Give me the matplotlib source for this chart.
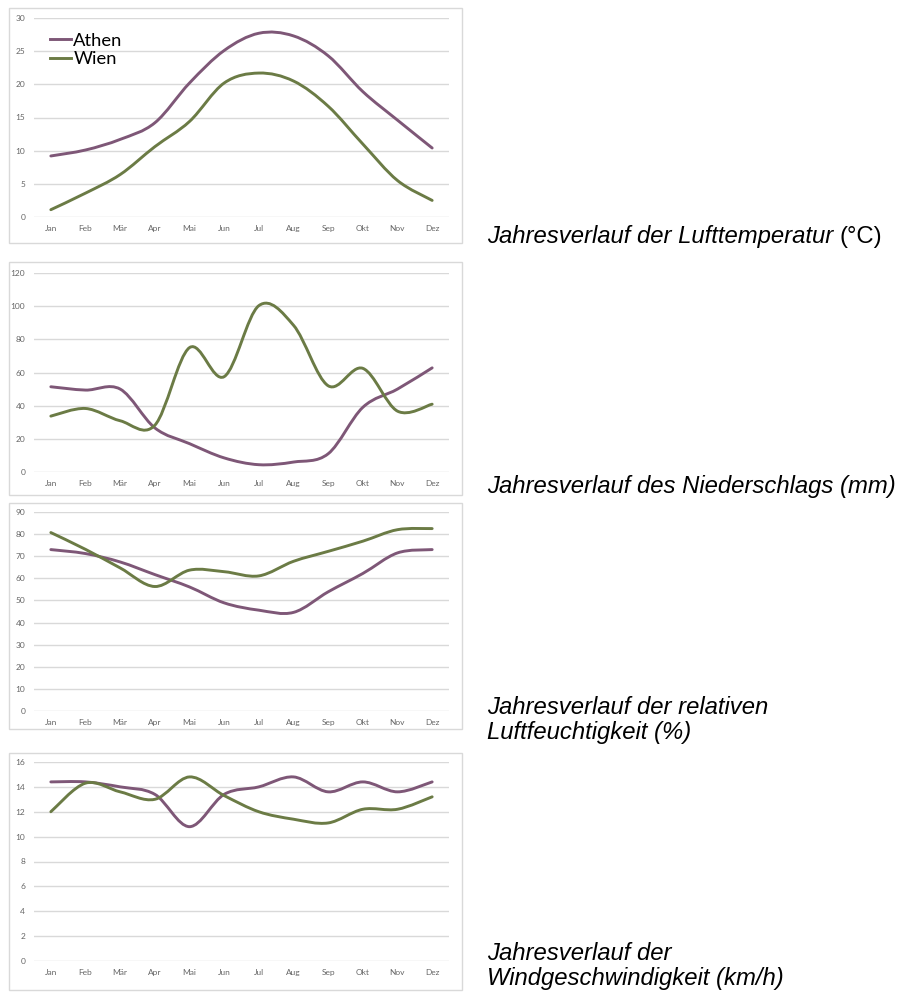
import numpy as np
import matplotlib
matplotlib.use('Agg')
import matplotlib.pyplot as plt
from matplotlib.path import Path
from matplotlib.patches import PathPatch, Rectangle
from matplotlib.lines import Line2D

months = ['Jan', 'Feb', 'Mär', 'Apr', 'Mai', 'Jun', 'Jul', 'Aug', 'Sep', 'Okt', 'Nov', 'Dez']

temp_athen = [9.2, 10.1, 11.7, 14.2, 20.2, 25.1, 27.7, 27.3, 24.3, 18.9, 14.6, 10.4]
temp_wien = [1.1, 3.6, 6.4, 10.6, 14.4, 20.2, 21.7, 20.5, 16.7, 11.0, 5.5, 2.5]

rain_athen = [51.4, 49.4, 50.0, 26.6, 17.1, 8.5, 4.4, 6.0, 11.0, 39.0, 50.0, 62.8]
rain_wien = [33.7, 38.3, 30.9, 28.2, 75.0, 57.5, 100.3, 88.5, 52.0, 62.5, 36.7, 40.9]

hum_athen = [73.0, 71.2, 67.4, 61.7, 56.1, 48.9, 45.6, 44.6, 53.9, 62.2, 71.5, 73.0]
hum_wien = [80.7, 73.1, 64.7, 56.3, 63.7, 63.0, 61.1, 67.7, 72.2, 76.8, 82.0, 82.5]

wind_athen = [14.4, 14.4, 14.0, 13.4, 10.8, 13.4, 14.0, 14.8, 13.6, 14.4, 13.6, 14.4]
wind_wien = [12.0, 14.3, 13.6, 13.0, 14.8, 13.3, 12.0, 11.4, 11.1, 12.2, 12.2, 13.2]

col_athen = '#7e5777'
col_wien = '#6b7b45'
grid_col = '#d9d9d9'
tick_col = '#666666'

W, H = 902, 992
fig = plt.figure(figsize=(W / 100, H / 100), dpi=100)


def smooth(ax, y, color):
    # Excel-like smoothed line: cubic Bezier segments through the data points
    pts = np.column_stack([np.arange(len(y)), y]).astype(float)
    n = len(pts)
    verts = [pts[0]]
    codes = [Path.MOVETO]
    for i in range(n - 1):
        p0 = pts[max(i - 1, 0)]
        p1 = pts[i]
        p2 = pts[i + 1]
        p3 = pts[min(i + 2, n - 1)]
        verts += [p1 + (p2 - p0) / 6, p2 - (p3 - p1) / 6, p2]
        codes += [Path.CURVE4] * 3
    ax.add_patch(PathPatch(Path(verts, codes), fill=False, edgecolor=color,
                           lw=2.1, capstyle='round', joinstyle='round', zorder=3))


panels = [
    # (data_a, data_w, ymax, step, axes top px, axes bottom px, box top, box bottom)
    (temp_athen, temp_wien, 30, 5, 18, 217, 8, 243),
    (rain_athen, rain_wien, 120, 20, 273, 472, 262, 495),
    (hum_athen, hum_wien, 90, 10, 512, 711, 503, 729),
    (wind_athen, wind_wien, 16, 2, 762, 961, 753, 990),
]

axes = []
for a, w, ymax, step, top, bot, btop, bbot in panels:
    fig.add_artist(Rectangle((9 / W, 1 - bbot / H), (462 - 9) / W, (bbot - btop) / H,
                             transform=fig.transFigure, fill=False,
                             edgecolor=grid_col, lw=1.0))
    ax = fig.add_axes([33.5 / W, 1 - bot / H, 416 / W, (bot - top) / H])
    ax.set_xlim(-0.5, 11.5)
    ax.set_ylim(0, ymax)
    ax.set_yticks(np.arange(0, ymax + step / 2, step))
    ax.set_xticks(range(12))
    ax.set_xticklabels(months)
    for s in ax.spines.values():
        s.set_visible(False)
    ax.grid(axis='y', color=grid_col, lw=1.0)
    ax.set_axisbelow(True)
    ax.tick_params(length=0, labelsize=6, labelcolor=tick_col)
    ax.tick_params(axis='y', pad=6)
    ax.tick_params(axis='x', pad=6)
    for lab in ax.get_xticklabels() + ax.get_yticklabels():
        lab.set_fontfamily('Lato')
    ax.patch.set_alpha(0)
    smooth(ax, a, col_athen)
    smooth(ax, w, col_wien)
    axes.append(ax)

handles = [Line2D([], [], color=col_athen, lw=2.1), Line2D([], [], color=col_wien, lw=2.1)]
axes[0].legend(handles, ['Athen', 'Wien'], loc='upper left', bbox_to_anchor=(0.01, 0.99),
               frameon=False, prop={'family': 'Lato', 'size': 13.2},
               handlelength=1.1, handletextpad=0.15, labelspacing=0.12, borderpad=0.2)

cap_kw = dict(fontsize=17.2, family='Liberation Sans', va='center', ha='left',
              linespacing=1.1, color='black')
x0 = 487 / W
t1 = fig.text(x0, 1 - 237 / H, 'Jahresverlauf der Lufttemperatur ', style='italic', **cap_kw)
fig.canvas.draw()
bb = t1.get_window_extent(fig.canvas.get_renderer())
fig.text(bb.x1 / W, 1 - 237 / H, '(°C)', style='normal', **cap_kw)
fig.text(x0, 1 - 486 / H, 'Jahresverlauf des Niederschlags (mm)', style='italic', **cap_kw)
fig.text(x0, 1 - 720 / H, 'Jahresverlauf der relativen\nLuftfeuchtigkeit (%)', style='italic', **cap_kw)
fig.text(x0, 1 - 966 / H, 'Jahresverlauf der\nWindgeschwindigkeit (km/h)', style='italic', **cap_kw)

fig.savefig('out.png', dpi=100)
